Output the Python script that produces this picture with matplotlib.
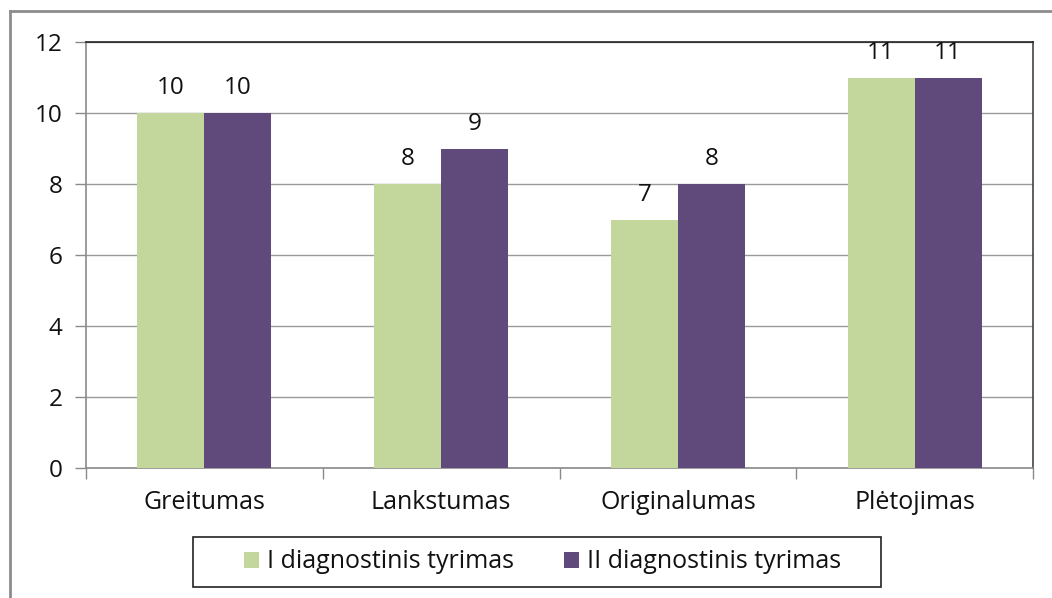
import matplotlib
matplotlib.use("Agg")
import matplotlib.pyplot as plt
import numpy as np
from matplotlib.lines import Line2D
from matplotlib.patches import Rectangle

categories = ["Greitumas", "Lankstumas", "Originalumas", "Plėtojimas"]
series_names = ["I diagnostinis tyrimas", "II diagnostinis tyrimas"]
series1 = [10, 8, 7, 11]
series2 = [10, 9, 8, 11]
colors = ["#C3D69B", "#604A7B"]

plt.rcParams['font.family'] = ['Open Sans', 'DejaVu Sans']

W, H = 1052, 598
fig = plt.figure(figsize=(W/100, H/100), dpi=100)
ax = fig.add_axes([86/W, 1-468/H, (1033-86)/W, (468-42)/H])

x = np.arange(len(categories))
w = 0.283
b1 = ax.bar(x - w/2, series1, w, color=colors[0], label=series_names[0], zorder=3)
b2 = ax.bar(x + w/2, series2, w, color=colors[1], label=series_names[1], zorder=3)

for bars, vals in ((b1, series1), (b2, series2)):
    for r, v in zip(bars, vals):
        ax.text(r.get_x() + r.get_width()/2, v + 0.53, str(v), ha='center', va='baseline',
                fontsize=17.5, color='#111111', zorder=4)

ax.set_xlim(-0.5, len(categories) - 0.5)
ax.set_ylim(0, 12)
ax.set_yticks(range(0, 13, 2))
ax.yaxis.grid(True, color='#9a9a9a', linewidth=1.0, zorder=0)
ax.set_axisbelow(True)

ax.set_xticks(x)
ax.set_xticklabels(categories, fontsize=18, color='#111111')
ax.tick_params(axis='x', length=0, pad=16)
ax.set_xticks(np.arange(-0.5, len(categories), 1.0), minor=True)
ax.tick_params(axis='x', which='minor', length=8, color='#8a8a8a', width=1)
ax.tick_params(axis='y', length=8, color='#8a8a8a', width=1, labelsize=17.5,
               labelcolor='#111111', pad=9)

ax.spines['left'].set_color('#8a8a8a')
ax.spines['bottom'].set_color('#8a8a8a')
ax.spines['top'].set_color('#222222')
ax.spines['right'].set_color('#444444')
for s in ax.spines.values():
    s.set_linewidth(1.2)

# legend box
fig.add_artist(Rectangle((193/W, 1-587/H), (881-193)/W, 50/H, transform=fig.transFigure,
                         facecolor='white', edgecolor='#222222', linewidth=1.2))
leg = fig.legend(handles=[b1, b2], labels=series_names, loc='center',
                 bbox_to_anchor=((240+845)/2/W, 1-562/H), ncol=2,
                 frameon=False, fontsize=18, handlelength=0.6,
                 handleheight=0.6, handletextpad=0.32, columnspacing=2.0,
                 borderpad=0.2)
leg.set_zorder(5)
for t in leg.get_texts():
    t.set_color('#111111')

# outer chart border (top and left visible)
fig.add_artist(Line2D([10/W, 1.0], [1-11/H, 1-11/H], transform=fig.transFigure,
                      color='#8c8c8c', linewidth=2.0))
fig.add_artist(Line2D([10/W, 10/W], [0.0, 1-11/H], transform=fig.transFigure,
                      color='#8c8c8c', linewidth=2.0))

fig.savefig("out.png", dpi=100)
